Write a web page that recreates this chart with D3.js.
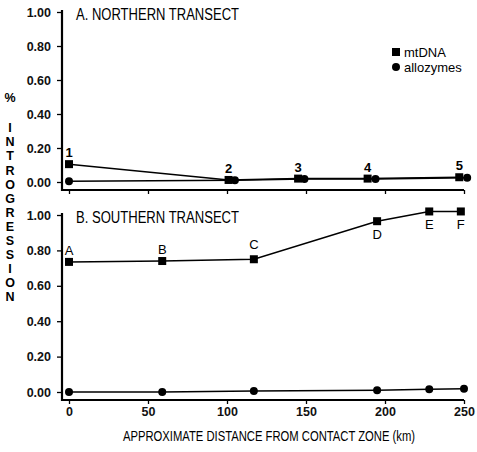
<!DOCTYPE html>
<html>
<head>
<meta charset="utf-8">
<script src="https://cdn.jsdelivr.net/npm/d3@7"></script>
<style>
  body { margin: 0; background: #fff; }
  svg { font-family: "Liberation Sans", Arial, sans-serif; }
</style>
</head>
<body>
<div id="chart"></div>
<script>
const width = 477;
const height = 452;

// northern transect, sites 1-5
const northSites = ["1", "2", "3", "4", "5"];
const northMtKm = [0, 101, 145, 189, 247];
const northMt = [0.105, 0.012, 0.02, 0.02, 0.028];
const northAlloKm = [0, 105, 149, 194, 252];
const northAllo = [0.005, 0.01, 0.018, 0.018, 0.025];

// southern transect, sites A-F
const southSites = ["A", "B", "C", "D", "E", "F"];
const southKm = [0, 59, 117, 195, 228, 248];
const southMt = [0.735, 0.74, 0.75, 0.965, 1.02, 1.02];
const southAlloKm = [0, 59, 117, 195, 228, 250];
const southAllo = [0.0, 0.0, 0.005, 0.01, 0.015, 0.018];
const southLabelBelow = [false, false, false, true, true, true];

const yTicks = [0, 0.2, 0.4, 0.6, 0.8, 1.0];
const xTicks = [0, 50, 100, 150, 200, 250];
const seriesNames = ["mtDNA", "allozymes"];
const yLetters = ["%", "", "I", "N", "T", "R", "O", "G", "R", "E", "S", "S", "I", "O", "N"];

const svg = d3
  .select("#chart")
  .append("svg")
  .attr("width", width)
  .attr("height", height);

const x = d3.scaleLinear().domain([0, 250]).range([69, 464]);
const axisX = 62;

function drawPanel(p) {
  const y = d3.scaleLinear().domain([0, 1]).range([p.zero, p.top]);
  const g = svg.append("g");

  // y axis
  const yAxis = d3
    .axisLeft(y)
    .tickValues(yTicks)
    .tickFormat(d3.format(".2f"))
    .tickSize(5)
    .tickSizeOuter(0);
  const ya = g
    .append("g")
    .attr("transform", `translate(${axisX},0)`)
    .call(yAxis);
  ya.select(".domain").remove();
  ya.selectAll("line").attr("stroke-width", 1.3);
  ya.selectAll("text")
    .attr("x", -11)
    .style("font-size", "12.5px")
    .style("font-weight", "bold")
    .attr("fill", "#111");

  // x axis
  const xAxis = d3
    .axisBottom(x)
    .tickValues(xTicks)
    .tickSize(4)
    .tickSizeOuter(0)
    .tickFormat(p.labels ? d3.format("d") : "");
  const xa = g
    .append("g")
    .attr("transform", `translate(0,${p.base})`)
    .call(xAxis);
  xa.select(".domain").remove();
  xa.selectAll("line").attr("stroke-width", 1.3);
  xa.selectAll("text")
    .attr("y", 7)
    .style("font-size", "12.5px")
    .style("font-weight", "bold")
    .attr("fill", "#111");

  // frame lines
  g.append("line")
    .attr("x1", axisX).attr("x2", axisX)
    .attr("y1", p.top - 2).attr("y2", p.base + 1)
    .attr("stroke", "#000").attr("stroke-width", 2.2);
  g.append("line")
    .attr("x1", axisX).attr("x2", x(250))
    .attr("y1", p.base).attr("y2", p.base)
    .attr("stroke", "#000").attr("stroke-width", 2);

  // title
  g.append("text")
    .attr("x", 76)
    .attr("y", p.top + 8)
    .attr("textLength", 163)
    .attr("lengthAdjust", "spacingAndGlyphs")
    .style("font-size", "16px")
    .text(p.title);

  const line = d3.line().x((d) => x(d[0])).y((d) => y(d[1]));
  const mt = p.mtKm.map((k, i) => [k, p.mt[i]]);
  const al = p.alloKm.map((k, i) => [k, p.allo[i]]);

  g.append("path").datum(al).attr("d", line)
    .attr("fill", "none").attr("stroke", "#000").attr("stroke-width", 1.5);
  g.append("path").datum(mt).attr("d", line)
    .attr("fill", "none").attr("stroke", "#000").attr("stroke-width", 1.5);

  g.selectAll(".allo").data(al).enter().append("circle")
    .attr("cx", (d) => x(d[0])).attr("cy", (d) => y(d[1]))
    .attr("r", 4).attr("fill", "#000");
  g.selectAll(".mt").data(mt).enter().append("rect")
    .attr("x", (d) => x(d[0]) - 4).attr("y", (d) => y(d[1]) - 4)
    .attr("width", 8).attr("height", 8).attr("fill", "#000");

  // site labels
  g.selectAll(".site").data(mt).enter().append("text")
    .attr("x", (d) => x(d[0]))
    .attr("y", (d, i) => {
      if (p.below && p.below[i]) return y(d[1]) + 18;
      return y(d[1]) - (p.sites[i] === "C" ? 10 : 7);
    })
    .attr("text-anchor", "middle")
    .style("font-size", "13px")
    .style("font-weight", p.labels ? "normal" : "bold")
    .text((d, i) => p.sites[i]);
}

drawPanel({
  top: 12, zero: 182, base: 190,
  title: "A.  NORTHERN TRANSECT",
  sites: northSites, mtKm: northMtKm, mt: northMt,
  alloKm: northAlloKm, allo: northAllo, labels: false
});

drawPanel({
  top: 215, zero: 392, base: 400,
  title: "B.  SOUTHERN TRANSECT",
  sites: southSites, mtKm: southKm, mt: southMt,
  alloKm: southAlloKm, allo: southAllo, labels: true, below: southLabelBelow
});

// legend
const legend = svg.append("g").attr("transform", "translate(396,52)");
legend.append("rect").attr("x", -4).attr("y", -4).attr("width", 8).attr("height", 8);
legend.append("circle").attr("cx", 0).attr("cy", 15).attr("r", 4);
legend.selectAll("text").data(seriesNames).enter().append("text")
  .attr("x", 8)
  .attr("y", (d, i) => 5 + i * 15)
  .style("font-size", "13px")
  .text((d) => d);

// vertical axis title, one letter per row
svg.append("g").selectAll("text").data(yLetters).enter().append("text")
  .attr("x", 10)
  .attr("y", (d, i) => 102 + i * 14.1 + (i > 0 ? 2 : 0))
  .attr("text-anchor", "middle")
  .style("font-size", "12.5px")
  .style("font-weight", "bold")
  .text((d) => d);

// x axis title
svg.append("text")
  .attr("x", 123)
  .attr("y", 441)
  .attr("textLength", 292)
  .attr("lengthAdjust", "spacingAndGlyphs")
  .style("font-size", "14px")
  .text("APPROXIMATE DISTANCE FROM  CONTACT ZONE (km)");
</script>
</body>
</html>
